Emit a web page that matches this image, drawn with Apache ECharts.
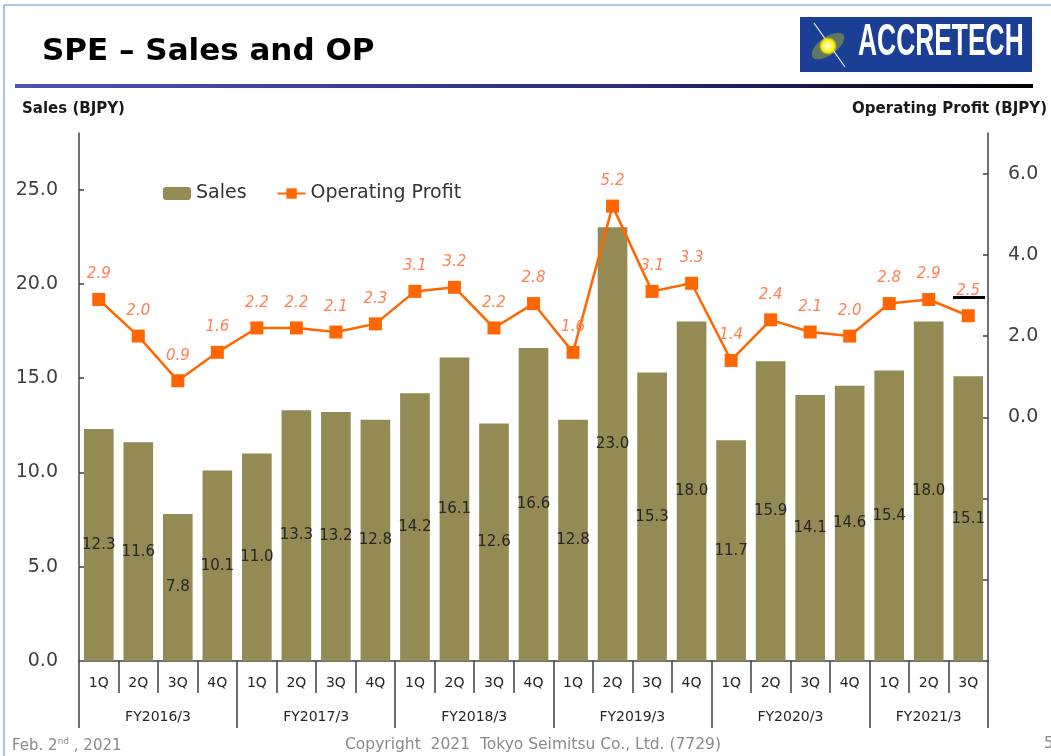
<!DOCTYPE html>
<html>
<head>
<meta charset="utf-8">
<script src="https://cdn.jsdelivr.net/npm/echarts@6/dist/echarts.min.js"></script>
<style>
html,body{margin:0;padding:0;background:#fff;}
#chart{width:1051px;height:756px;}
</style>
</head>
<body>
<div id="chart"></div>
<script>
// ---- data ----
const fiscalYears = ['FY2016/3','FY2017/3','FY2018/3','FY2019/3','FY2020/3','FY2021/3'];
const quartersPerYear = [4,4,4,4,4,3];
const quarterNames = ['1Q','2Q','3Q','4Q'];
const sales = [12.3,11.6,7.8,10.1, 11.0,13.3,13.2,12.8, 14.2,16.1,12.6,16.6, 12.8,23.0,15.3,18.0, 11.7,15.9,14.1,14.6, 15.4,18.0,15.1];
const operatingProfit = [2.9,2.0,0.9,1.6, 2.2,2.2,2.1,2.3, 3.1,3.2,2.2,2.8, 1.6,5.2,3.1,3.3, 1.4,2.4,2.1,2.0, 2.8,2.9,2.5];
const salesTickLabels = [0,5,10,15,20,25];
const salesTickMarks = [5,10,15,20,25];
const opTickLabels = [0,2,4,6];
const opTickMarks = [-4,-2,0,2,4,6];

// ---- derived ----
const categories = [];
const fyBounds = [0];
const fyCenters = [];
quartersPerYear.forEach((n, i) => {
  for (let q = 0; q < n; q++) categories.push(quarterNames[q]);
  const start = fyBounds[fyBounds.length - 1];
  fyCenters.push(start + n / 2);
  fyBounds.push(start + n);
});
const totalCats = categories.length;

const chart = echarts.init(document.getElementById('chart'), null, {renderer: 'canvas'});
const FONT = 'DejaVu Sans';
const AX = '#404040';

const option = {
  animation: false,
  backgroundColor: '#ffffff',
  textStyle: {fontFamily: FONT},
  grid: {left: 79, right: 63, top: 133, bottom: 95, containLabel: false},
  legend: {
    left: 163, top: 184, padding: 0,
    itemWidth: 28, itemHeight: 13, itemGap: 30,
    textStyle: {fontFamily: FONT, fontSize: 19, color: '#333333'},
    data: ['Sales', 'Operating Profit']
  },
  xAxis: [
    {
      type: 'category', data: categories, position: 'bottom', boundaryGap: true,
      axisLine: {show: true, onZero: false, lineStyle: {color: AX, width: 1.5}},
      axisTick: {show: true, interval: 0, alignWithLabel: false, length: 32, lineStyle: {color: AX, width: 1.5}},
      axisLabel: {interval: 0, margin: 15, fontFamily: FONT, fontSize: 14, color: '#262626'},
      splitLine: {show: false}
    },
    {
      type: 'value', min: 0, max: totalCats, position: 'bottom', gridIndex: 0,
      axisLine: {show: false, onZero: false},
      axisTick: {show: true, customValues: fyBounds, length: 67, lineStyle: {color: AX, width: 1.5}},
      axisLabel: {
        customValues: fyCenters, margin: 49, fontFamily: FONT, fontSize: 14, color: '#262626',
        formatter: function (v) {
          const i = fyCenters.findIndex(c => Math.abs(c - v) < 1e-6);
          return i >= 0 ? fiscalYears[i] : '';
        }
      },
      splitLine: {show: false}
    }
  ],
  yAxis: [
    {
      type: 'value', min: 0, max: 28, interval: 5, position: 'left',
      axisLine: {show: true, onZero: false, lineStyle: {color: AX, width: 1.5}},
      axisTick: {show: true, inside: true, length: 5, customValues: salesTickMarks, lineStyle: {color: AX, width: 1.5}},
      axisLabel: {customValues: salesTickLabels, margin: 21, fontFamily: FONT, fontSize: 19, color: '#404040',
        formatter: v => v.toFixed(1)},
      splitLine: {show: false}
    },
    {
      type: 'value', min: -6, max: 7, interval: 2, position: 'right',
      axisLine: {show: true, onZero: false, lineStyle: {color: AX, width: 1.5}},
      axisTick: {show: true, inside: true, length: 5, customValues: opTickMarks, lineStyle: {color: AX, width: 1.5}},
      axisLabel: {customValues: opTickLabels, margin: 20, fontFamily: FONT, fontSize: 19, color: '#404040',
        formatter: v => v.toFixed(1)},
      splitLine: {show: false}
    }
  ],
  series: [
    {
      name: 'Sales', type: 'bar', xAxisIndex: 0, yAxisIndex: 0,
      data: sales, barWidth: '75%',
      itemStyle: {color: '#948A54'},
      label: {show: true, position: 'inside', fontFamily: FONT, fontSize: 15, color: '#262626',
        formatter: p => p.value.toFixed(1)},
      z: 2
    },
    {
      name: 'Operating Profit', type: 'line', xAxisIndex: 0, yAxisIndex: 1,
      data: operatingProfit,
      symbol: 'rect', symbolSize: 13,
      lineStyle: {color: '#FF6600', width: 2.5},
      itemStyle: {color: '#FF6600'},
      label: {show: true, position: 'top', distance: 11, fontFamily: FONT, fontSize: 15,
        fontStyle: 'italic', color: '#FF8050', formatter: p => p.value.toFixed(1)},
      z: 5
    }
  ],
  graphic: [
    {type: 'line', shape: {x1: 4, y1: 5, x2: 1051, y2: 5}, style: {stroke: '#8DB3E2', lineWidth: 1.5}, silent: true},
    {type: 'line', shape: {x1: 4, y1: 5, x2: 4, y2: 756}, style: {stroke: '#8DB3E2', lineWidth: 1.5}, silent: true},
    {type: 'text', left: 42, top: 36, style: {text: 'SPE – Sales and OP', font: 'bold 31px "DejaVu Sans"', fill: '#000000'}},
    {type: 'rect', shape: {x: 15, y: 84, width: 1018, height: 4},
      style: {fill: new echarts.graphic.LinearGradient(0, 0, 1, 0, [
        {offset: 0, color: '#5252B4'}, {offset: 0.6, color: '#2C2C7A'}, {offset: 1, color: '#000000'}])}},
    {type: 'rect', shape: {x: 800, y: 17, width: 232, height: 55}, style: {fill: '#1B3F95'}},
    {type: 'line', shape: {x1: 814, y1: 23, x2: 845, y2: 67}, style: {stroke: '#E8ECFF', lineWidth: 1.2}},
    {type: 'ellipse', shape: {cx: 0, cy: 0, rx: 19, ry: 9}, x: 828, y: 46, rotation: Math.PI / 5,
      style: {fill: new echarts.graphic.RadialGradient(0.5, 0.5, 0.5, [
        {offset: 0, color: '#FFFFFF'}, {offset: 0.3, color: '#FFFF80'}, {offset: 0.75, color: '#F5E800'}, {offset: 1, color: 'rgba(230,220,0,0.35)'}])}},
    {type: 'text', x: 858, y: 21, scaleX: 0.6,
      style: {text: 'ACCRETECH', font: 'bold 44px "Liberation Sans"', fill: '#FFFFFF'}},
    {type: 'text', left: 22, top: 102, style: {text: 'Sales (BJPY)', font: 'bold 15px "DejaVu Sans"', fill: '#1a1a1a'}},
    {type: 'text', right: 4, top: 102, style: {text: 'Operating Profit (BJPY)', font: 'bold 15px "DejaVu Sans"', fill: '#1a1a1a'}},
    {type: 'rect', shape: {x: 953, y: 296, width: 32, height: 3}, style: {fill: '#000000'}},
    {type: 'text', left: 12, top: 737, style: {
      text: '{a|Feb. 2}{s|nd}{a| , 2021}',
      rich: {a: {fontFamily: FONT, fontSize: 15, fill: '#8a8a8a', verticalAlign: 'bottom'},
             s: {fontFamily: FONT, fontSize: 9, fill: '#8a8a8a', verticalAlign: 'top', padding: [0,0,8,0]}}}},
    {type: 'text', left: 345, top: 737, style: {text: 'Copyright  2021  Tokyo Seimitsu Co., Ltd. (7729)',
      font: '15.5px "DejaVu Sans"', fill: '#8a8a8a'}},
    {type: 'text', left: 1044, top: 737, style: {text: '5', font: '15px "DejaVu Sans"', fill: '#8a8a8a'}}
  ]
};
chart.setOption(option);
</script>
</body>
</html>
